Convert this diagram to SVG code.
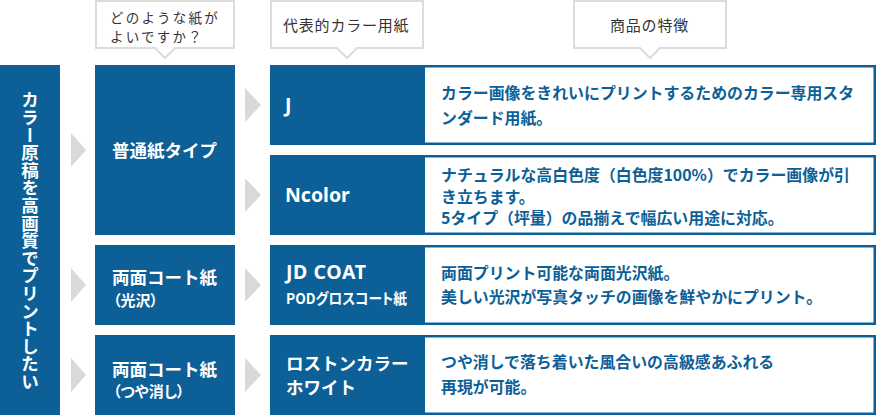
<svg xmlns="http://www.w3.org/2000/svg" width="876" height="415" viewBox="0 0 876 415">
<style>
.blue{fill:#0c6097}
.inner{fill:#ffffff}
.arrow{fill:#d9d9d9}
.callout{fill:#ffffff;stroke:#dcdcdc;stroke-width:2}
text{font-family:"Noto Sans CJK JP","Noto Sans",sans-serif}
.hd{fill:#333333;font-size:15px;letter-spacing:0.8px}
.hd2{fill:#333333;font-size:13.5px;letter-spacing:2.2px}
.wt{fill:#ffffff;font-weight:700;font-size:17.5px}
.sub{fill:#ffffff;font-weight:700;font-size:15px;font-feature-settings:"palt"}
.lat{fill:#ffffff;font-weight:700;font-size:19.5px;font-family:"Noto Sans","Noto Sans CJK JP",sans-serif}
.desc{fill:#0c6097;font-weight:700;font-size:15.9px}
.vert{fill:#ffffff;font-weight:700;font-size:17.6px;writing-mode:vertical-rl}
</style>
<g id="connectors">
<polygon class="arrow" points="71,133 86,150 71,167"/>
<polygon class="arrow" points="71,268 86,285 71,302"/>
<polygon class="arrow" points="71,358 86,375 71,392"/>
<polygon class="arrow" points="245,88 261,105 245,122"/>
<polygon class="arrow" points="245,178 261,195 245,212"/>
<polygon class="arrow" points="245,268 261,285 245,302"/>
<polygon class="arrow" points="245,358 261,375 245,392"/>
</g>
<g id="header-paper">
<path class="callout" d="M96,1 H234 V48 H175 L165,58 L155,48 H96 Z"/>
<text class="hd2" x="110" y="22.5">どのような紙が</text>
<text class="hd2" x="110" y="42.2">よいですか？</text>
</g>
<g id="header-representative">
<path class="callout" d="M271,1 H423 V48 H357 L347,58 L337,48 H271 Z"/>
<text class="hd" x="283" y="31">代表的カラー用紙</text>
</g>
<g id="header-features">
<path class="callout" d="M574,1 H726 V48 H660 L650,58 L640,48 H574 Z"/>
<text class="hd" x="610" y="31">商品の特徴</text>
</g>
<g id="goal">
<rect class="blue" x="0" y="65" width="60" height="350"/>
<text class="vert" x="30" y="91">カラー原稿を高画質でプリントしたい</text>
</g>
<g id="type-plain">
<rect class="blue" x="95" y="65" width="140" height="170"/>
<text class="wt" x="112" y="157">普通紙タイプ</text>
</g>
<g id="type-gloss">
<rect class="blue" x="95" y="245" width="140" height="80"/>
<text class="wt" x="112" y="284">両面コート紙</text>
<text class="sub" x="113" y="306">（光沢）</text>
</g>
<g id="type-matte">
<rect class="blue" x="95" y="335" width="140" height="80"/>
<text class="wt" x="112" y="376">両面コート紙</text>
<text class="sub" x="113" y="397">（つや消し）</text>
</g>
<g id="paper-j">
<rect class="blue" x="270" y="65" width="606" height="80"/>
<rect class="inner" x="425" y="67.5" width="448.5" height="75"/>
<text class="lat" x="285" y="112">J</text>
<text class="desc" x="441" y="99">カラー画像をきれいにプリントするためのカラー専用スタ</text>
<text class="desc" x="441" y="124">ンダード用紙。</text>
</g>
<g id="paper-ncolor">
<rect class="blue" x="270" y="155" width="606" height="80"/>
<rect class="inner" x="425" y="157.5" width="448.5" height="75"/>
<text class="lat" x="285" y="202">Ncolor</text>
<text class="desc" x="441" y="181">ナチュラルな高白色度（白色度100%）でカラー画像が引</text>
<text class="desc" x="441" y="203">き立ちます。</text>
<text class="desc" x="441" y="224">5タイプ（坪量）の品揃えで幅広い用途に対応。</text>
</g>
<g id="paper-jdcoat">
<rect class="blue" x="270" y="245" width="606" height="80"/>
<rect class="inner" x="425" y="247.5" width="448.5" height="75"/>
<text class="lat" x="286" y="279" letter-spacing="0.6">JD COAT</text>
<text class="sub" x="286" y="304" textLength="121" lengthAdjust="spacingAndGlyphs">PODグロスコート紙</text>
<text class="desc" x="441" y="279">両面プリント可能な両面光沢紙。</text>
<text class="desc" x="441" y="303">美しい光沢が写真タッチの画像を鮮やかにプリント。</text>
</g>
<g id="paper-roston">
<rect class="blue" x="270" y="335" width="606" height="80"/>
<rect class="inner" x="425" y="337.5" width="448.5" height="75"/>
<text class="wt" x="286" y="370">ロストンカラー</text>
<text class="wt" x="286" y="394">ホワイト</text>
<text class="desc" x="441" y="368">つや消しで落ち着いた風合いの高級感あふれる</text>
<text class="desc" x="441" y="393">再現が可能。</text>
</g>
</svg>
